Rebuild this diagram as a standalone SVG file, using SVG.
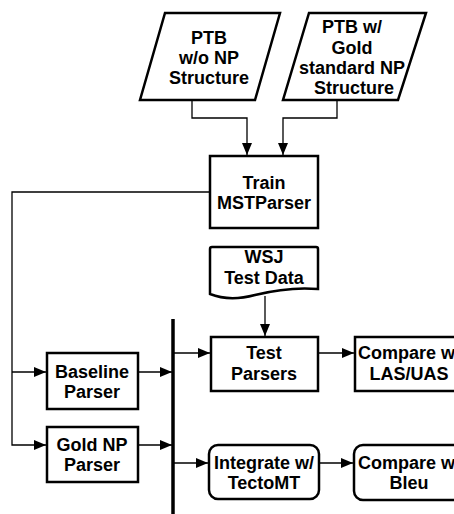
<svg xmlns="http://www.w3.org/2000/svg" width="454" height="514" viewBox="0 0 454 514">
<style>
.s{fill:#fff;stroke:#000;stroke-width:2.5}
.t{font-family:"Liberation Sans",Arial,sans-serif;font-weight:bold;font-size:18px;text-anchor:middle;fill:#000}
.c{fill:none;stroke:#000;stroke-width:1.3}
</style>
<defs>
<marker id="a" markerWidth="12" markerHeight="10" refX="12" refY="5" orient="auto" markerUnits="userSpaceOnUse">
<path d="M0,0 L12,5 L0,10 Z" fill="#000"/>
</marker>
</defs>
<rect width="454" height="514" fill="#fff"/>
<g id="connectors">
<polyline class="c" points="192,100 192,118 247,118 247,155" marker-end="url(#a)"/>
<polyline class="c" points="337,100 337,118 283,118 283,155" marker-end="url(#a)"/>
<polyline class="c" points="210,192 12,192 12,445 46,445" marker-end="url(#a)"/>
<line class="c" x1="12" y1="372" x2="46" y2="372" marker-end="url(#a)"/>
<line class="c" x1="138" y1="372" x2="172" y2="372" marker-end="url(#a)"/>
<line class="c" x1="138" y1="445" x2="172" y2="445" marker-end="url(#a)"/>
<line class="c" x1="265" y1="296" x2="265" y2="336" marker-end="url(#a)"/>
<line class="c" x1="174" y1="353" x2="210" y2="353" marker-end="url(#a)"/>
<line class="c" x1="174" y1="463" x2="208" y2="463" marker-end="url(#a)"/>
<line class="c" x1="318" y1="353" x2="354" y2="353" marker-end="url(#a)"/>
<line class="c" x1="319" y1="463" x2="353" y2="463" marker-end="url(#a)"/>
<line x1="173" y1="319" x2="173" y2="514" stroke="#000" stroke-width="3.5"/>
</g>
<g id="ptb-np">
<polygon class="s" points="165,13 280,13 255,100 140,100"/>
<text class="t" x="209" y="44">PTB</text>
<text class="t" x="209" y="64">w/o NP</text>
<text class="t" x="209" y="84">Structure</text>
</g>
<g id="ptb-gold">
<polygon class="s" points="309,13 426,13 398,100 283,100"/>
<text class="t" x="352" y="33">PTB w/</text>
<text class="t" x="352" y="54">Gold</text>
<text class="t" x="352" y="74">standard NP</text>
<text class="t" x="354" y="94">Structure</text>
</g>
<g id="train">
<rect class="s" x="210" y="156" width="108" height="72"/>
<text class="t" x="264" y="189">Train</text>
<text class="t" x="264" y="209">MSTParser</text>
</g>
<g id="wsj">
<path class="s" d="M212,247 L316,247 Q318,247 318,249 L318,289 C295,287 275,290 255,295 C240,299 225,300 210,294 L210,249 Q210,247 212,247 Z"/>
<text class="t" x="264" y="263">WSJ</text>
<text class="t" x="264" y="284">Test Data</text>
</g>
<g id="test-parsers">
<rect class="s" x="211" y="337" width="107" height="54"/>
<text class="t" x="264" y="359">Test</text>
<text class="t" x="264" y="380">Parsers</text>
</g>
<g id="compare-las">
<rect class="s" x="355" y="337" width="108" height="54"/>
<text class="t" x="409" y="359">Compare w/</text>
<text class="t" x="409" y="380">LAS/UAS</text>
</g>
<g id="baseline">
<rect class="s" x="47" y="353" width="91" height="56"/>
<text class="t" x="92" y="378">Baseline</text>
<text class="t" x="92" y="398">Parser</text>
</g>
<g id="goldnp">
<rect class="s" x="47" y="427" width="91" height="55"/>
<text class="t" x="92" y="451">Gold NP</text>
<text class="t" x="92" y="471">Parser</text>
</g>
<g id="integrate">
<rect class="s" x="209" y="445" width="110" height="54" rx="9"/>
<text class="t" x="264" y="469">Integrate w/</text>
<text class="t" x="264" y="489">TectoMT</text>
</g>
<g id="compare-bleu">
<rect class="s" x="354" y="445" width="110" height="55" rx="9"/>
<text class="t" x="409" y="469">Compare w/</text>
<text class="t" x="409" y="489">Bleu</text>
</g>
</svg>
